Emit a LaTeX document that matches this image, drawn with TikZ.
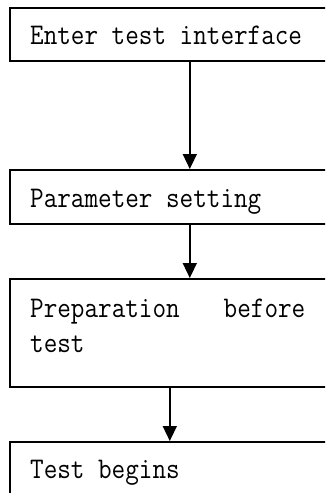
\documentclass[tikz,border=0pt]{standalone}
\usepackage{fontspec}
\setmonofont[FakeStretch=0.88]{Latin Modern Mono}
\usetikzlibrary{arrows.meta}

\tikzset{
  stepbox/.style={draw, line width=1.6pt, anchor=north west, minimum width=360pt, inner sep=0pt},
  steptext/.style={anchor=base west, inner sep=0pt, font=\ttfamily\fontsize{30}{35}\selectfont, align=left},
  flow/.style={line width=1.6pt, -{Triangle[length=15pt,width=14pt]}}
}

\begin{document}
\begin{tikzpicture}[x=1pt,y=1pt]
    \useasboundingbox (0,0) rectangle (325,-493);
    \clip (0,0) rectangle (325,-493);

    % boxes
    \node[stepbox, minimum height=53pt] (enter) at (9,-7) {};
    \node[stepbox, minimum height=54pt] (param) at (9,-169) {};
    \node[stepbox, minimum height=108pt] (prep) at (9,-278) {};
    \node[stepbox, minimum height=80pt] (begin) at (9,-441) {};

    % texts
    \node[steptext] (t1) at ([xshift=21pt,yshift=-37pt]enter.north west) {Enter test interface};
    \node[steptext] (t2) at ([xshift=21pt,yshift=-38pt]param.north west) {Parameter setting};
    \node[steptext] (t3) at ([xshift=21pt,yshift=-74pt]prep.north west) {Preparation\hspace{44pt}before\\test};
    \node[steptext] (t4) at ([xshift=21pt,yshift=-37pt]begin.north west) {Test begins};

    % arrows
    \draw[flow] (enter.south) -- (param.north);
    \draw[flow] (param.south) -- (prep.north);
    \draw[flow] ([xshift=-20pt]prep.south) -- ([xshift=-20pt]begin.north);
\end{tikzpicture}
\end{document}
